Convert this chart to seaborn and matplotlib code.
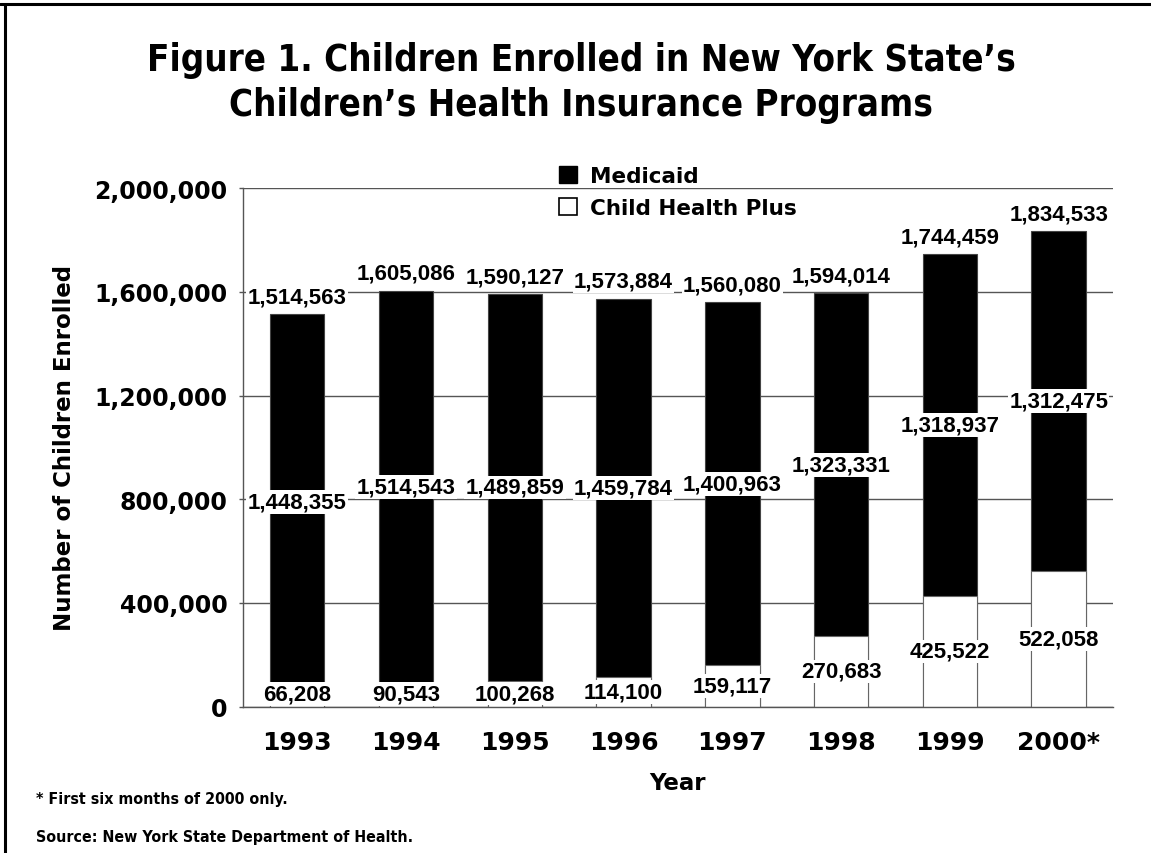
import matplotlib
matplotlib.use("Agg")
import matplotlib.pyplot as plt
import seaborn as sns
from matplotlib.lines import Line2D
from matplotlib.patches import Patch
from matplotlib.ticker import FuncFormatter, FixedLocator

years = ["1993", "1994", "1995", "1996", "1997", "1998", "1999", "2000*"]
total = [1514563, 1605086, 1590127, 1573884, 1560080, 1594014, 1744459, 1834533]
medicaid = [1448355, 1514543, 1489859, 1459784, 1400963, 1323331, 1318937, 1312475]
chp = [66208, 90543, 100268, 114100, 159117, 270683, 425522, 522058]
yticks = [0, 400000, 800000, 1200000, 1600000, 2000000]

sns.set_style("white")
plt.rcParams["font.family"] = ["DejaVu Sans"]
plt.rcParams["text.color"] = "black"
plt.rcParams["axes.labelcolor"] = "black"
plt.rcParams["xtick.color"] = "black"
plt.rcParams["ytick.color"] = "black"
grid_c = "#555555"

fig = plt.figure(figsize=(11.51, 8.54), dpi=100)
ax = fig.add_axes([0.211, 0.1715, 0.756, 0.607])

sns.barplot(x=years, y=total, color="black", width=0.5, saturation=1,
            edgecolor="#444444", linewidth=0.8, ax=ax, zorder=2)
sns.barplot(x=years, y=chp, color="white", width=0.5, saturation=1,
            edgecolor="#666666", linewidth=0.8, ax=ax, zorder=2)

ax.set_xlim(-0.5, len(years) - 0.5)
ax.set_ylim(0, 2000000)
ax.set_yticks(yticks)
ax.yaxis.set_major_formatter(FuncFormatter(lambda v, p: f"{int(v):,}"))
ax.yaxis.grid(True, color=grid_c, linewidth=1)
ax.set_axisbelow(True)

ax.xaxis.set_minor_locator(FixedLocator([i - 0.5 for i in range(len(years) + 1)]))
ax.tick_params(axis="x", which="major", length=0, pad=17, labelsize=18)
ax.tick_params(axis="x", which="minor", length=9.5, width=1, color=grid_c, direction="out")
ax.tick_params(axis="y", length=3, width=1, color=grid_c, pad=8, labelsize=17, left=True)
for lab in ax.get_xticklabels() + ax.get_yticklabels():
    lab.set_fontweight("bold")
    lab.set_color("black")

for s in ["top", "right"]:
    ax.spines[s].set_visible(False)
for s in ["left", "bottom"]:
    ax.spines[s].set_color(grid_c)
    ax.spines[s].set_linewidth(1)

ax.set_xlabel("Year", fontsize=16.5, fontweight="bold", labelpad=12)
ax.set_ylabel("Number of Children Enrolled", fontsize=16.5, fontweight="bold", labelpad=13)

box = dict(facecolor="white", edgecolor="none", pad=1)
lab_font = dict(family=["Liberation Sans", "DejaVu Sans"], fontsize=16, fontweight="bold")
for i in range(len(years)):
    ax.annotate(f"{total[i]:,}", (i, total[i]), xytext=(0, 5), textcoords="offset points",
                ha="center", va="bottom", bbox=box, zorder=4, **lab_font)
    ax.text(i, (chp[i] + total[i]) / 2, f"{medicaid[i]:,}", ha="center", va="center",
            bbox=box, zorder=4, **lab_font)
    ax.text(i, max(chp[i] / 2, 48000), f"{chp[i]:,}", ha="center", va="center",
            bbox=box, zorder=4, **lab_font)

handles = [Patch(facecolor="black", edgecolor="black"),
           Patch(facecolor="white", edgecolor="black", linewidth=1.2)]
fig.legend(handles, ["Medicaid", "Child Health Plus"], loc="upper left",
           bbox_to_anchor=(548 / 1151, 1 - 156 / 854), frameon=False, borderpad=0,
           handlelength=0.85, handleheight=0.85, handletextpad=0.6, labelspacing=0.55,
           prop=dict(size=15.5, weight="bold"))

fig.text(0.505, 1 - 83 / 854,
         "Figure 1. Children Enrolled in New York State\u2019s\nChildren\u2019s Health Insurance Programs",
         ha="center", va="center", fontsize=26.3, fontweight="bold", fontstretch="condensed",
         linespacing=1.25)
fig.text(36 / 1151, 1 - 800 / 854, "* First six months of 2000 only.",
         ha="left", va="center", fontsize=11.4, fontweight="bold", fontstretch="condensed")
fig.text(36 / 1151, 1 - 838 / 854, "Source: New York State Department of Health.",
         ha="left", va="center", fontsize=11.4, fontweight="bold", fontstretch="condensed")

fig.add_artist(Line2D([0, 1], [1 - 5 / 854, 1 - 5 / 854], color="black", linewidth=2.2))
fig.add_artist(Line2D([5 / 1151, 5 / 1151], [0, 1 - 5 / 854], color="black", linewidth=2.2))

fig.savefig("out.png", dpi=100)
